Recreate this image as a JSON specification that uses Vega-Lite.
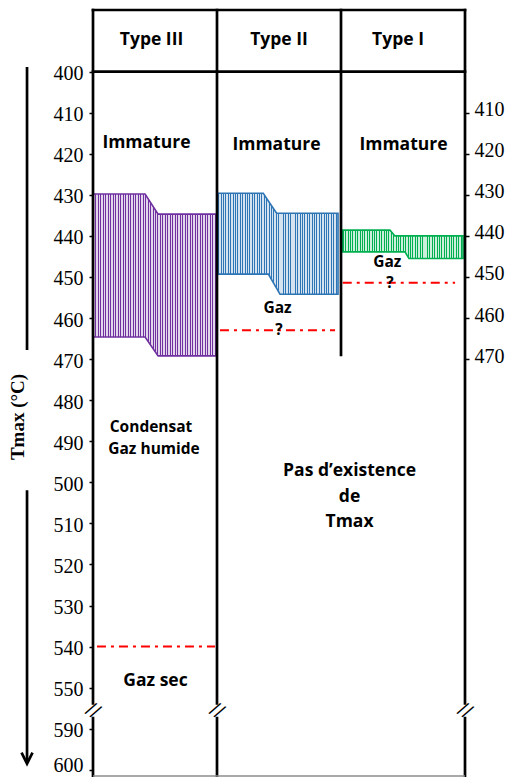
{
  "$schema": "https://vega.github.io/schema/vega-lite/v6.json",
  "width": 372,
  "height": 766,
  "autosize": {"type": "none"},
  "padding": {"left": 93, "top": 10, "right": 45, "bottom": 1},
  "background": "white",
  "config": {"view": {"stroke": null}},
  "datasets": {
    "bands": [
      {"type": "Type III", "x": 0, "top": 429.8, "bottom": 464.6},
      {"type": "Type III", "x": 0.42, "top": 429.8, "bottom": 464.6},
      {"type": "Type III", "x": 0.525, "top": 434.7, "bottom": 469.2},
      {"type": "Type III", "x": 1.0, "top": 434.7, "bottom": 469.2},
      {"type": "Type II", "x": 1.01, "top": 429.6, "bottom": 449.3},
      {"type": "Type II", "x": 1.373, "top": 429.6, "bottom": 449.3},
      {"type": "Type II", "x": 1.414, "top": 431.5, "bottom": 449.3},
      {"type": "Type II", "x": 1.481, "top": 434.5, "bottom": 452.8},
      {"type": "Type II", "x": 1.508, "top": 434.5, "bottom": 454.2},
      {"type": "Type II", "x": 1.976, "top": 434.5, "bottom": 454.2},
      {"type": "Type I", "x": 2.014, "top": 438.6, "bottom": 443.9},
      {"type": "Type I", "x": 2.395, "top": 438.6, "bottom": 443.9},
      {"type": "Type I", "x": 2.435, "top": 440.0, "bottom": 443.9},
      {"type": "Type I", "x": 2.516, "top": 440.0, "bottom": 443.9},
      {"type": "Type I", "x": 2.548, "top": 440.0, "bottom": 445.5},
      {"type": "Type I", "x": 2.984, "top": 440.0, "bottom": 445.5}
    ],
    "zones": [
      {"type": "Type III", "x": 0.032, "x2": 0.984, "y": 540},
      {"type": "Type II", "x": 1.024, "x2": 1.952, "y": 463},
      {"type": "Type I", "x": 2.014, "x2": 2.92, "y": 451.4}
    ],
    "frame": [
      {"x": 0, "x2": 3, "y": 385, "y2": 385},
      {"x": 0, "x2": 3, "y": 400, "y2": 400},
      {"x": 0, "x2": 0, "y": 385, "y2": 553.8},
      {"x": 0, "x2": 0, "y": 557.4, "y2": 571.5},
      {"x": 1, "x2": 1, "y": 385, "y2": 553.8},
      {"x": 1, "x2": 1, "y": 557.4, "y2": 571.5},
      {"x": 2, "x2": 2, "y": 385, "y2": 469},
      {"x": 3, "x2": 3, "y": 385, "y2": 553.8},
      {"x": 3, "x2": 3, "y": 557.4, "y2": 571.5}
    ],
    "base": [{"x": 0, "x2": 3, "y": 571.5}],
    "arrow": [
      {"x": -0.532, "y": 398.9, "y2": 467.8},
      {"x": -0.532, "y": 501.9, "y2": 568.3}
    ],
    "arrowhead": [{"x": -0.532, "y": 568.5}],
    "breaks": [
      {"x": 0, "y": 555.6, "mark": "//"},
      {"x": 1, "y": 555.6, "mark": "//"},
      {"x": 3, "y": 555.6, "mark": "//"}
    ],
    "labelsBig": [
      {"label": "Type III", "x": 0.472, "y": 392.3},
      {"label": "Type II", "x": 1.5, "y": 392.3},
      {"label": "Type I", "x": 2.46, "y": 392.3},
      {"label": "Immature", "x": 0.431, "y": 417.3},
      {"label": "Immature", "x": 1.48, "y": 417.9},
      {"label": "Immature", "x": 2.504, "y": 417.9},
      {"label": "Gaz sec", "x": 0.504, "y": 548.4},
      {"label": "Pas d’existence", "x": 2.069, "y": 497.2},
      {"label": "de", "x": 2.069, "y": 503.6},
      {"label": "Tmax", "x": 2.069, "y": 509.7}
    ],
    "labelsSmall": [
      {"label": "Condensat", "x": 0.468, "y": 486.5},
      {"label": "Gaz humide", "x": 0.492, "y": 491.9},
      {"label": "Gaz", "x": 1.488, "y": 457.6},
      {"label": "?", "x": 1.5, "y": 462.9},
      {"label": "Gaz", "x": 2.373, "y": 446.4},
      {"label": "?", "x": 2.395, "y": 451.5}
    ]
  },
  "resolve": {"axis": {"y": "independent"}},
  "layer": [
    {
      "data": {"name": "bands"},
      "mark": {"type": "area", "opacity": 1, "interpolate": "linear"},
      "encoding": {
        "x": {"field": "x", "type": "quantitative", "scale": {"domain": [0, 3], "nice": false, "zero": false}, "axis": null},
        "y": {"field": "top", "type": "quantitative", "stack": null, "scale": {"domain": [385, 571.5], "reverse": true, "nice": false, "zero": false}, "axis": null},
        "y2": {"field": "bottom"},
        "color": {"field": "type", "type": "nominal", "scale": {"domain": ["Type III", "Type II", "Type I"], "range": ["#7030A0", "#2E75B6", "#00B050"]}, "legend": null}
      }
    },
    {
      "data": {"name": "bands"},
      "mark": {
        "type": "area",
        "opacity": 1,
        "strokeWidth": 1.6,
        "interpolate": "linear",
        "fill": {
          "gradient": "linear", "x1": 0, "y1": 0, "x2": 1, "y2": 0,
          "stops": [
            {"offset": 0, "color": "rgba(255,255,255,0)"}, {"offset": 0.008, "color": "rgba(255,255,255,0)"}, {"offset": 0.008, "color": "rgba(255,255,255,0.8)"}, {"offset": 0.02, "color": "rgba(255,255,255,0.8)"},
            {"offset": 0.02, "color": "rgba(255,255,255,0)"}, {"offset": 0.028, "color": "rgba(255,255,255,0)"}, {"offset": 0.028, "color": "rgba(255,255,255,0.8)"}, {"offset": 0.04, "color": "rgba(255,255,255,0.8)"},
            {"offset": 0.04, "color": "rgba(255,255,255,0)"}, {"offset": 0.048, "color": "rgba(255,255,255,0)"}, {"offset": 0.048, "color": "rgba(255,255,255,0.8)"}, {"offset": 0.06, "color": "rgba(255,255,255,0.8)"},
            {"offset": 0.06, "color": "rgba(255,255,255,0)"}, {"offset": 0.068, "color": "rgba(255,255,255,0)"}, {"offset": 0.068, "color": "rgba(255,255,255,0.8)"}, {"offset": 0.08, "color": "rgba(255,255,255,0.8)"},
            {"offset": 0.08, "color": "rgba(255,255,255,0)"}, {"offset": 0.088, "color": "rgba(255,255,255,0)"}, {"offset": 0.088, "color": "rgba(255,255,255,0.8)"}, {"offset": 0.1, "color": "rgba(255,255,255,0.8)"},
            {"offset": 0.1, "color": "rgba(255,255,255,0)"}, {"offset": 0.108, "color": "rgba(255,255,255,0)"}, {"offset": 0.108, "color": "rgba(255,255,255,0.8)"}, {"offset": 0.12, "color": "rgba(255,255,255,0.8)"},
            {"offset": 0.12, "color": "rgba(255,255,255,0)"}, {"offset": 0.128, "color": "rgba(255,255,255,0)"}, {"offset": 0.128, "color": "rgba(255,255,255,0.8)"}, {"offset": 0.14, "color": "rgba(255,255,255,0.8)"},
            {"offset": 0.14, "color": "rgba(255,255,255,0)"}, {"offset": 0.148, "color": "rgba(255,255,255,0)"}, {"offset": 0.148, "color": "rgba(255,255,255,0.8)"}, {"offset": 0.16, "color": "rgba(255,255,255,0.8)"},
            {"offset": 0.16, "color": "rgba(255,255,255,0)"}, {"offset": 0.168, "color": "rgba(255,255,255,0)"}, {"offset": 0.168, "color": "rgba(255,255,255,0.8)"}, {"offset": 0.18, "color": "rgba(255,255,255,0.8)"},
            {"offset": 0.18, "color": "rgba(255,255,255,0)"}, {"offset": 0.188, "color": "rgba(255,255,255,0)"}, {"offset": 0.188, "color": "rgba(255,255,255,0.8)"}, {"offset": 0.2, "color": "rgba(255,255,255,0.8)"},
            {"offset": 0.2, "color": "rgba(255,255,255,0)"}, {"offset": 0.208, "color": "rgba(255,255,255,0)"}, {"offset": 0.208, "color": "rgba(255,255,255,0.8)"}, {"offset": 0.22, "color": "rgba(255,255,255,0.8)"},
            {"offset": 0.22, "color": "rgba(255,255,255,0)"}, {"offset": 0.228, "color": "rgba(255,255,255,0)"}, {"offset": 0.228, "color": "rgba(255,255,255,0.8)"}, {"offset": 0.24, "color": "rgba(255,255,255,0.8)"},
            {"offset": 0.24, "color": "rgba(255,255,255,0)"}, {"offset": 0.248, "color": "rgba(255,255,255,0)"}, {"offset": 0.248, "color": "rgba(255,255,255,0.8)"}, {"offset": 0.26, "color": "rgba(255,255,255,0.8)"},
            {"offset": 0.26, "color": "rgba(255,255,255,0)"}, {"offset": 0.268, "color": "rgba(255,255,255,0)"}, {"offset": 0.268, "color": "rgba(255,255,255,0.8)"}, {"offset": 0.28, "color": "rgba(255,255,255,0.8)"},
            {"offset": 0.28, "color": "rgba(255,255,255,0)"}, {"offset": 0.288, "color": "rgba(255,255,255,0)"}, {"offset": 0.288, "color": "rgba(255,255,255,0.8)"}, {"offset": 0.3, "color": "rgba(255,255,255,0.8)"},
            {"offset": 0.3, "color": "rgba(255,255,255,0)"}, {"offset": 0.308, "color": "rgba(255,255,255,0)"}, {"offset": 0.308, "color": "rgba(255,255,255,0.8)"}, {"offset": 0.32, "color": "rgba(255,255,255,0.8)"},
            {"offset": 0.32, "color": "rgba(255,255,255,0)"}, {"offset": 0.328, "color": "rgba(255,255,255,0)"}, {"offset": 0.328, "color": "rgba(255,255,255,0.8)"}, {"offset": 0.34, "color": "rgba(255,255,255,0.8)"},
            {"offset": 0.34, "color": "rgba(255,255,255,0)"}, {"offset": 0.348, "color": "rgba(255,255,255,0)"}, {"offset": 0.348, "color": "rgba(255,255,255,0.8)"}, {"offset": 0.36, "color": "rgba(255,255,255,0.8)"},
            {"offset": 0.36, "color": "rgba(255,255,255,0)"}, {"offset": 0.368, "color": "rgba(255,255,255,0)"}, {"offset": 0.368, "color": "rgba(255,255,255,0.8)"}, {"offset": 0.38, "color": "rgba(255,255,255,0.8)"},
            {"offset": 0.38, "color": "rgba(255,255,255,0)"}, {"offset": 0.388, "color": "rgba(255,255,255,0)"}, {"offset": 0.388, "color": "rgba(255,255,255,0.8)"}, {"offset": 0.4, "color": "rgba(255,255,255,0.8)"},
            {"offset": 0.4, "color": "rgba(255,255,255,0)"}, {"offset": 0.408, "color": "rgba(255,255,255,0)"}, {"offset": 0.408, "color": "rgba(255,255,255,0.8)"}, {"offset": 0.42, "color": "rgba(255,255,255,0.8)"},
            {"offset": 0.42, "color": "rgba(255,255,255,0)"}, {"offset": 0.428, "color": "rgba(255,255,255,0)"}, {"offset": 0.428, "color": "rgba(255,255,255,0.8)"}, {"offset": 0.44, "color": "rgba(255,255,255,0.8)"},
            {"offset": 0.44, "color": "rgba(255,255,255,0)"}, {"offset": 0.448, "color": "rgba(255,255,255,0)"}, {"offset": 0.448, "color": "rgba(255,255,255,0.8)"}, {"offset": 0.46, "color": "rgba(255,255,255,0.8)"},
            {"offset": 0.46, "color": "rgba(255,255,255,0)"}, {"offset": 0.468, "color": "rgba(255,255,255,0)"}, {"offset": 0.468, "color": "rgba(255,255,255,0.8)"}, {"offset": 0.48, "color": "rgba(255,255,255,0.8)"},
            {"offset": 0.48, "color": "rgba(255,255,255,0)"}, {"offset": 0.488, "color": "rgba(255,255,255,0)"}, {"offset": 0.488, "color": "rgba(255,255,255,0.8)"}, {"offset": 0.5, "color": "rgba(255,255,255,0.8)"},
            {"offset": 0.5, "color": "rgba(255,255,255,0)"}, {"offset": 0.508, "color": "rgba(255,255,255,0)"}, {"offset": 0.508, "color": "rgba(255,255,255,0.8)"}, {"offset": 0.52, "color": "rgba(255,255,255,0.8)"},
            {"offset": 0.52, "color": "rgba(255,255,255,0)"}, {"offset": 0.528, "color": "rgba(255,255,255,0)"}, {"offset": 0.528, "color": "rgba(255,255,255,0.8)"}, {"offset": 0.54, "color": "rgba(255,255,255,0.8)"},
            {"offset": 0.54, "color": "rgba(255,255,255,0)"}, {"offset": 0.548, "color": "rgba(255,255,255,0)"}, {"offset": 0.548, "color": "rgba(255,255,255,0.8)"}, {"offset": 0.56, "color": "rgba(255,255,255,0.8)"},
            {"offset": 0.56, "color": "rgba(255,255,255,0)"}, {"offset": 0.568, "color": "rgba(255,255,255,0)"}, {"offset": 0.568, "color": "rgba(255,255,255,0.8)"}, {"offset": 0.58, "color": "rgba(255,255,255,0.8)"},
            {"offset": 0.58, "color": "rgba(255,255,255,0)"}, {"offset": 0.588, "color": "rgba(255,255,255,0)"}, {"offset": 0.588, "color": "rgba(255,255,255,0.8)"}, {"offset": 0.6, "color": "rgba(255,255,255,0.8)"},
            {"offset": 0.6, "color": "rgba(255,255,255,0)"}, {"offset": 0.608, "color": "rgba(255,255,255,0)"}, {"offset": 0.608, "color": "rgba(255,255,255,0.8)"}, {"offset": 0.62, "color": "rgba(255,255,255,0.8)"},
            {"offset": 0.62, "color": "rgba(255,255,255,0)"}, {"offset": 0.628, "color": "rgba(255,255,255,0)"}, {"offset": 0.628, "color": "rgba(255,255,255,0.8)"}, {"offset": 0.64, "color": "rgba(255,255,255,0.8)"},
            {"offset": 0.64, "color": "rgba(255,255,255,0)"}, {"offset": 0.648, "color": "rgba(255,255,255,0)"}, {"offset": 0.648, "color": "rgba(255,255,255,0.8)"}, {"offset": 0.66, "color": "rgba(255,255,255,0.8)"},
            {"offset": 0.66, "color": "rgba(255,255,255,0)"}, {"offset": 0.668, "color": "rgba(255,255,255,0)"}, {"offset": 0.668, "color": "rgba(255,255,255,0.8)"}, {"offset": 0.68, "color": "rgba(255,255,255,0.8)"},
            {"offset": 0.68, "color": "rgba(255,255,255,0)"}, {"offset": 0.688, "color": "rgba(255,255,255,0)"}, {"offset": 0.688, "color": "rgba(255,255,255,0.8)"}, {"offset": 0.7, "color": "rgba(255,255,255,0.8)"},
            {"offset": 0.7, "color": "rgba(255,255,255,0)"}, {"offset": 0.708, "color": "rgba(255,255,255,0)"}, {"offset": 0.708, "color": "rgba(255,255,255,0.8)"}, {"offset": 0.72, "color": "rgba(255,255,255,0.8)"},
            {"offset": 0.72, "color": "rgba(255,255,255,0)"}, {"offset": 0.728, "color": "rgba(255,255,255,0)"}, {"offset": 0.728, "color": "rgba(255,255,255,0.8)"}, {"offset": 0.74, "color": "rgba(255,255,255,0.8)"},
            {"offset": 0.74, "color": "rgba(255,255,255,0)"}, {"offset": 0.748, "color": "rgba(255,255,255,0)"}, {"offset": 0.748, "color": "rgba(255,255,255,0.8)"}, {"offset": 0.76, "color": "rgba(255,255,255,0.8)"},
            {"offset": 0.76, "color": "rgba(255,255,255,0)"}, {"offset": 0.768, "color": "rgba(255,255,255,0)"}, {"offset": 0.768, "color": "rgba(255,255,255,0.8)"}, {"offset": 0.78, "color": "rgba(255,255,255,0.8)"},
            {"offset": 0.78, "color": "rgba(255,255,255,0)"}, {"offset": 0.788, "color": "rgba(255,255,255,0)"}, {"offset": 0.788, "color": "rgba(255,255,255,0.8)"}, {"offset": 0.8, "color": "rgba(255,255,255,0.8)"},
            {"offset": 0.8, "color": "rgba(255,255,255,0)"}, {"offset": 0.808, "color": "rgba(255,255,255,0)"}, {"offset": 0.808, "color": "rgba(255,255,255,0.8)"}, {"offset": 0.82, "color": "rgba(255,255,255,0.8)"},
            {"offset": 0.82, "color": "rgba(255,255,255,0)"}, {"offset": 0.828, "color": "rgba(255,255,255,0)"}, {"offset": 0.828, "color": "rgba(255,255,255,0.8)"}, {"offset": 0.84, "color": "rgba(255,255,255,0.8)"},
            {"offset": 0.84, "color": "rgba(255,255,255,0)"}, {"offset": 0.848, "color": "rgba(255,255,255,0)"}, {"offset": 0.848, "color": "rgba(255,255,255,0.8)"}, {"offset": 0.86, "color": "rgba(255,255,255,0.8)"},
            {"offset": 0.86, "color": "rgba(255,255,255,0)"}, {"offset": 0.868, "color": "rgba(255,255,255,0)"}, {"offset": 0.868, "color": "rgba(255,255,255,0.8)"}, {"offset": 0.88, "color": "rgba(255,255,255,0.8)"},
            {"offset": 0.88, "color": "rgba(255,255,255,0)"}, {"offset": 0.888, "color": "rgba(255,255,255,0)"}, {"offset": 0.888, "color": "rgba(255,255,255,0.8)"}, {"offset": 0.9, "color": "rgba(255,255,255,0.8)"},
            {"offset": 0.9, "color": "rgba(255,255,255,0)"}, {"offset": 0.908, "color": "rgba(255,255,255,0)"}, {"offset": 0.908, "color": "rgba(255,255,255,0.8)"}, {"offset": 0.92, "color": "rgba(255,255,255,0.8)"},
            {"offset": 0.92, "color": "rgba(255,255,255,0)"}, {"offset": 0.928, "color": "rgba(255,255,255,0)"}, {"offset": 0.928, "color": "rgba(255,255,255,0.8)"}, {"offset": 0.94, "color": "rgba(255,255,255,0.8)"},
            {"offset": 0.94, "color": "rgba(255,255,255,0)"}, {"offset": 0.948, "color": "rgba(255,255,255,0)"}, {"offset": 0.948, "color": "rgba(255,255,255,0.8)"}, {"offset": 0.96, "color": "rgba(255,255,255,0.8)"},
            {"offset": 0.96, "color": "rgba(255,255,255,0)"}, {"offset": 0.968, "color": "rgba(255,255,255,0)"}, {"offset": 0.968, "color": "rgba(255,255,255,0.8)"}, {"offset": 0.98, "color": "rgba(255,255,255,0.8)"},
            {"offset": 0.98, "color": "rgba(255,255,255,0)"}, {"offset": 0.988, "color": "rgba(255,255,255,0)"}, {"offset": 0.988, "color": "rgba(255,255,255,0.8)"}, {"offset": 1, "color": "rgba(255,255,255,0.8)"}
          ]
        }
      },
      "encoding": {
        "x": {"field": "x", "type": "quantitative", "scale": {"domain": [0, 3], "nice": false, "zero": false}, "axis": null},
        "y": {
          "field": "top", "type": "quantitative", "stack": null,
          "scale": {"domain": [385, 571.5], "reverse": true, "nice": false, "zero": false},
          "axis": {
            "orient": "right", "values": [410, 420, 430, 440, 450, 460, 470],
            "domain": false, "grid": false, "title": null,
            "ticks": true, "tickColor": "black", "tickSize": 4, "tickWidth": 1.5,
            "labelFont": "Liberation Serif", "labelFontSize": 20, "labelColor": "black",
            "labelPadding": 5, "labelOffset": -3, "labelBaseline": "middle", "labelFlush": false, "labelOverlap": false
          }
        },
        "y2": {"field": "bottom"},
        "stroke": {"field": "type", "type": "nominal", "scale": {"domain": ["Type III", "Type II", "Type I"], "range": ["#7030A0", "#2E75B6", "#00B050"]}, "legend": null}
      }
    },
    {
      "data": {"name": "zones"},
      "mark": {"type": "rule", "color": "#FF0000", "strokeWidth": 2, "strokeDash": [9, 5, 3, 5]},
      "encoding": {
        "x": {"field": "x", "type": "quantitative", "scale": {"domain": [0, 3], "nice": false, "zero": false}, "axis": null},
        "x2": {"field": "x2"},
        "y": {"field": "y", "type": "quantitative", "scale": {"domain": [385, 571.5], "reverse": true, "nice": false, "zero": false}, "axis": null}
      }
    },
    {
      "data": {"name": "frame"},
      "mark": {"type": "rule", "color": "black", "strokeWidth": 2.7, "strokeCap": "square"},
      "encoding": {
        "x": {"field": "x", "type": "quantitative", "scale": {"domain": [0, 3], "nice": false, "zero": false}, "axis": null},
        "x2": {"field": "x2"},
        "y": {
          "field": "y", "type": "quantitative",
          "scale": {"domain": [385, 571.5], "reverse": true, "nice": false, "zero": false},
          "axis": {
            "orient": "left",
            "values": [400, 410, 420, 430, 440, 450, 460, 470, 480, 490, 500, 510, 520, 530, 540, 550, 560, 570],
            "labelExpr": "datum.value == 560 ? '590' : datum.value == 570 ? '600' : datum.label",
            "domain": false, "grid": false,
            "ticks": true, "tickColor": "black", "tickSize": 4, "tickWidth": 1.5,
            "labelFont": "Liberation Serif", "labelFontSize": 20, "labelColor": "black",
            "labelPadding": 6,
            "labelOffset": {"condition": {"test": "datum.value == 570", "value": -4}, "value": 2},
            "labelBaseline": "middle", "labelFlush": false, "labelOverlap": false,
            "title": "Tmax (°C)", "titleFont": "Liberation Serif", "titleFontSize": 19, "titleFontWeight": "bold",
            "titleColor": "black", "titleAngle": 270, "titleBaseline": "bottom", "titleAlign": "center",
            "titleX": -66, "titleY": 406.5
          }
        },
        "y2": {"field": "y2"}
      }
    },
    {
      "data": {"name": "base"},
      "mark": {"type": "rule", "color": "#8c8c8c", "strokeWidth": 1.5},
      "encoding": {
        "x": {"field": "x", "type": "quantitative", "scale": {"domain": [0, 3], "nice": false, "zero": false}, "axis": null},
        "x2": {"field": "x2"},
        "y": {"field": "y", "type": "quantitative", "scale": {"domain": [385, 571.5], "reverse": true, "nice": false, "zero": false}, "axis": null}
      }
    },
    {
      "data": {"name": "arrow"},
      "mark": {"type": "rule", "color": "black", "strokeWidth": 2.7},
      "encoding": {
        "x": {"field": "x", "type": "quantitative", "scale": {"domain": [0, 3], "nice": false, "zero": false}, "axis": null},
        "y": {"field": "y", "type": "quantitative", "scale": {"domain": [385, 571.5], "reverse": true, "nice": false, "zero": false}, "axis": null},
        "y2": {"field": "y2"}
      }
    },
    {
      "data": {"name": "arrowhead"},
      "mark": {"type": "point", "shape": "M-0.5,-1L0,0L0.5,-1", "size": 484, "filled": false, "color": "black", "strokeWidth": 2.7, "opacity": 1},
      "encoding": {
        "x": {"field": "x", "type": "quantitative", "scale": {"domain": [0, 3], "nice": false, "zero": false}, "axis": null},
        "y": {"field": "y", "type": "quantitative", "scale": {"domain": [385, 571.5], "reverse": true, "nice": false, "zero": false}, "axis": null}
      }
    },
    {
      "data": {"name": "breaks"},
      "mark": {"type": "text", "font": "DejaVu Sans", "fontSize": 18, "angle": 32, "align": "center", "baseline": "middle", "color": "black"},
      "encoding": {
        "x": {"field": "x", "type": "quantitative", "scale": {"domain": [0, 3], "nice": false, "zero": false}, "axis": null},
        "y": {"field": "y", "type": "quantitative", "scale": {"domain": [385, 571.5], "reverse": true, "nice": false, "zero": false}, "axis": null},
        "text": {"field": "mark"}
      }
    },
    {
      "data": {"name": "labelsBig"},
      "mark": {"type": "text", "font": "Open Sans", "fontWeight": "bold", "fontSize": 17.5, "align": "center", "baseline": "middle", "color": "black"},
      "encoding": {
        "x": {"field": "x", "type": "quantitative", "scale": {"domain": [0, 3], "nice": false, "zero": false}, "axis": null},
        "y": {"field": "y", "type": "quantitative", "scale": {"domain": [385, 571.5], "reverse": true, "nice": false, "zero": false}, "axis": null},
        "text": {"field": "label"}
      }
    },
    {
      "data": {"name": "labelsSmall"},
      "mark": {"type": "text", "font": "Open Sans", "fontWeight": "bold", "fontSize": 15.5, "align": "center", "baseline": "middle", "color": "black"},
      "encoding": {
        "x": {"field": "x", "type": "quantitative", "scale": {"domain": [0, 3], "nice": false, "zero": false}, "axis": null},
        "y": {"field": "y", "type": "quantitative", "scale": {"domain": [385, 571.5], "reverse": true, "nice": false, "zero": false}, "axis": null},
        "text": {"field": "label"}
      }
    }
  ]
}
